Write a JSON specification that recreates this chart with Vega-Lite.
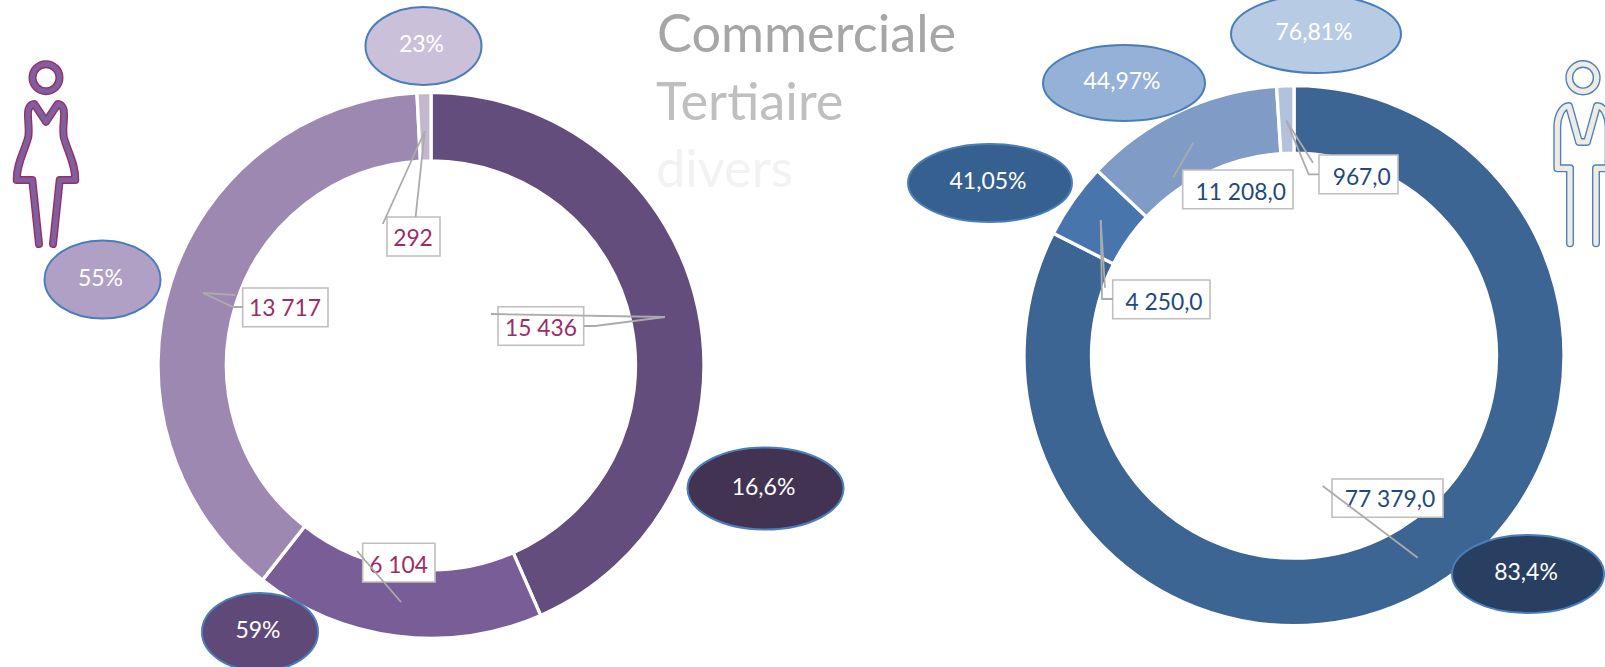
{
"$schema":"https://vega.github.io/schema/vega-lite/v6.json",
"width":1605,"height":667,"padding":0,"autosize":{"type":"none"},"background":"white",
"config":{"view":{"stroke":null},"font":"Lato"},
"datasets":{
"slices":[
{"donut":"Femmes","segment":"F1","order":1,"value":15436},
{"donut":"Femmes","segment":"F2","order":2,"value":6104},
{"donut":"Femmes","segment":"F3","order":3,"value":13717},
{"donut":"Femmes","segment":"F4","order":4,"value":292},
{"donut":"Hommes","segment":"H1","order":1,"value":77379},
{"donut":"Hommes","segment":"H2","order":2,"value":4250},
{"donut":"Hommes","segment":"H3","order":3,"value":11208},
{"donut":"Hommes","segment":"H4","order":4,"value":967}],
"bubbles":[
{"label":"16,6%","x":765.5,"y":488.5},
{"label":"59%","x":260,"y":632},
{"label":"55%","x":102.5,"y":279.5},
{"label":"23%","x":423.5,"y":46},
{"label":"83,4%","x":1528,"y":574},
{"label":"41,05%","x":990,"y":183},
{"label":"44,97%","x":1124,"y":83},
{"label":"76,81%","x":1316,"y":34}],
"boxes":[
{"label":"15 436","donut":"Femmes","x0":498,"x1":583.7,"y0":306.7,"y1":345.3,"tx":541,"ty":329},
{"label":"6 104","donut":"Femmes","x0":362.7,"x1":435,"y0":543.3,"y1":582,"tx":398.5,"ty":566},
{"label":"13 717","donut":"Femmes","x0":242.7,"x1":328,"y0":288,"y1":326.7,"tx":285,"ty":309},
{"label":"292","donut":"Femmes","x0":387,"x1":440,"y0":217,"y1":256,"tx":413,"ty":239},
{"label":"77 379,0","donut":"Hommes","x0":1332,"x1":1443,"y0":479,"y1":517.3,"tx":1390,"ty":500},
{"label":"4 250,0","donut":"Hommes","x0":1112.7,"x1":1210,"y0":280,"y1":318.7,"tx":1164,"ty":303},
{"label":"11 208,0","donut":"Hommes","x0":1182.7,"x1":1293,"y0":170,"y1":208.7,"tx":1240.7,"ty":193},
{"label":"967,0","donut":"Hommes","x0":1319,"x1":1398,"y0":155,"y1":193.7,"tx":1361.7,"ty":178}],
"leaders":[
{"id":"a1","seq":1,"x":203,"y":293},{"id":"a1","seq":2,"x":235,"y":295},
{"id":"a2","seq":1,"x":203,"y":293},{"id":"a2","seq":2,"x":233,"y":307},{"id":"a2","seq":3,"x":243,"y":307},
{"id":"b1","seq":1,"x":491,"y":314},{"id":"b1","seq":2,"x":665,"y":317},
{"id":"b2","seq":1,"x":665,"y":317},{"id":"b2","seq":2,"x":595,"y":326},{"id":"b2","seq":3,"x":584,"y":326},
{"id":"c1","seq":1,"x":357,"y":551},{"id":"c1","seq":2,"x":401,"y":602},
{"id":"d1","seq":1,"x":424.8,"y":131},{"id":"d1","seq":2,"x":382.8,"y":224},
{"id":"d2","seq":1,"x":424.8,"y":131},{"id":"d2","seq":2,"x":415.6,"y":217},
{"id":"e1","seq":1,"x":1286.3,"y":120.7},{"id":"e1","seq":2,"x":1313,"y":162.7},
{"id":"e2","seq":1,"x":1286.3,"y":120.7},{"id":"e2","seq":2,"x":1308.7,"y":174.3},{"id":"e2","seq":3,"x":1319,"y":174.3},
{"id":"f1","seq":1,"x":1193.3,"y":142.7},{"id":"f1","seq":2,"x":1173.3,"y":177.3},
{"id":"g1","seq":1,"x":1100.7,"y":220},{"id":"g1","seq":2,"x":1105,"y":287.7},
{"id":"g2","seq":1,"x":1100.7,"y":220},{"id":"g2","seq":2,"x":1102,"y":299},{"id":"g2","seq":3,"x":1113,"y":299},
{"id":"h1","seq":1,"x":1322.7,"y":486},{"id":"h1","seq":2,"x":1417.7,"y":557.7}],
"legend":[
{"label":"Commerciale","x":657,"y":52},
{"label":"Tertiaire","x":656,"y":120},
{"label":"divers","x":656,"y":187}],
"icons":[{"icon":"Femme","x":46,"y":150},{"icon":"Homme","x":1583,"y":150}]
},
"layer":[
{"data":{"name":"slices"},
 "transform":[{"filter":"datum.donut==='Femmes'"},{"stack":"value","groupby":["donut"],"sort":[{"field":"order","order":"ascending"}],"offset":"normalize","as":["a0","a1"]}],
 "mark":{"type":"arc","innerRadius":204.5,"outerRadius":273,"stroke":"white","strokeWidth":3.3},
 "encoding":{
  "x":{"field":"donut","type":"nominal","axis":null,"scale":{"domain":["Femmes","Hommes"],"range":[431,1294],"padding":0}},
  "y":{"field":"donut","type":"nominal","axis":null,"scale":{"domain":["Femmes","Hommes"],"range":[365.4,355.7],"padding":0}},
  "theta":{"field":"a0","type":"quantitative","scale":{"domain":[0,1]}},
  "theta2":{"field":"a1"},
  "fill":{"field":"segment","type":"nominal","legend":null,"scale":{"domain":["F1","F2","F3","F4"],"range":["#634D7C","#785D97","#9D88B2","#C3B7D0"]}}}},
{"data":{"name":"slices"},
 "transform":[{"filter":"datum.donut==='Hommes'"},{"stack":"value","groupby":["donut"],"sort":[{"field":"order","order":"ascending"}],"offset":"normalize","as":["a0","a1"]}],
 "mark":{"type":"arc","innerRadius":202.5,"outerRadius":270,"stroke":"white","strokeWidth":3.3},
 "encoding":{
  "x":{"field":"donut","type":"nominal","axis":null,"scale":{"domain":["Femmes","Hommes"],"range":[431,1294],"padding":0}},
  "y":{"field":"donut","type":"nominal","axis":null,"scale":{"domain":["Femmes","Hommes"],"range":[365.4,355.7],"padding":0}},
  "theta":{"field":"a0","type":"quantitative","scale":{"domain":[0,1]}},
  "theta2":{"field":"a1"},
  "fill":{"field":"segment","type":"nominal","legend":null,"scale":{"domain":["H1","H2","H3","H4"],"range":["#3C6594","#4876AC","#7F9BC6","#B2C2DD"]}}}},
{"data":{"name":"icons"},
 "mark":{"type":"point","size":4,"filled":false,"opacity":1,"strokeWidth":8,"strokeCap":"round","strokeJoin":"round"},
 "encoding":{
  "x":{"field":"x","type":"quantitative","axis":null,"scale":{"domain":[0,1605],"range":[0,1605]}},
  "y":{"field":"y","type":"quantitative","axis":null,"scale":{"domain":[0,667],"range":[0,667]}},
  "shape":{"field":"icon","type":"nominal","legend":null,"scale":{"domain":["Femme","Homme"],"range":["M-7,94L-13.7,30L-29.3,30C-29.3,13,-22,3,-17.7,-13C-16,-25,-20,-36,-17,-42Q-15,-46,-11.7,-46L0,-28.3L11.7,-46Q15,-46,17,-42C20,-36,16,-25,17.7,-13C22,3,29.3,13,29.3,30L13.7,30L7,94M13.5,-72.3A13.5,13.5 0 1,1 -13.5,-72.3A13.5,13.5 0 1,1 13.5,-72.3Z","M-13,93.3L-13,18.3L-25.7,18.3L-25.7,-23.3C-25.7,-33,-21,-44,-14,-44L-4,-8L4,-8L14,-44C21,-44,25.7,-33,25.7,-23.3L25.7,18.3L13,18.3L13,93.3M13.7,-72.3A13.7,13.7 0 1,1 -13.7,-72.3A13.7,13.7 0 1,1 13.7,-72.3Z"]}},
  "stroke":{"field":"icon","type":"nominal","legend":null,"scale":{"domain":["Femme","Homme"],"range":["#9B2D64","#4F81BD"]}}}},
{"data":{"name":"icons"},
 "mark":{"type":"point","size":4,"filled":false,"opacity":1,"strokeWidth":5.2,"strokeCap":"round","strokeJoin":"round"},
 "encoding":{
  "x":{"field":"x","type":"quantitative","axis":null,"scale":{"domain":[0,1605],"range":[0,1605]}},
  "y":{"field":"y","type":"quantitative","axis":null,"scale":{"domain":[0,667],"range":[0,667]}},
  "shape":{"field":"icon","type":"nominal","legend":null,"scale":{"domain":["Femme","Homme"],"range":["M-7,94L-13.7,30L-29.3,30C-29.3,13,-22,3,-17.7,-13C-16,-25,-20,-36,-17,-42Q-15,-46,-11.7,-46L0,-28.3L11.7,-46Q15,-46,17,-42C20,-36,16,-25,17.7,-13C22,3,29.3,13,29.3,30L13.7,30L7,94M13.5,-72.3A13.5,13.5 0 1,1 -13.5,-72.3A13.5,13.5 0 1,1 13.5,-72.3Z","M-13,93.3L-13,18.3L-25.7,18.3L-25.7,-23.3C-25.7,-33,-21,-44,-14,-44L-4,-8L4,-8L14,-44C21,-44,25.7,-33,25.7,-23.3L25.7,18.3L13,18.3L13,93.3M13.7,-72.3A13.7,13.7 0 1,1 -13.7,-72.3A13.7,13.7 0 1,1 13.7,-72.3Z"]}},
  "stroke":{"field":"icon","type":"nominal","legend":null,"scale":{"domain":["Femme","Homme"],"range":["#805F9F","#EEECE1"]}}}},
{"data":{"name":"legend"},
 "mark":{"type":"text","align":"left","baseline":"alphabetic","fontSize":52.3,"font":"Lato"},
 "encoding":{
  "x":{"field":"x","type":"quantitative","axis":null,"scale":{"domain":[0,1605],"range":[0,1605]}},
  "y":{"field":"y","type":"quantitative","axis":null,"scale":{"domain":[0,667],"range":[0,667]}},
  "text":{"field":"label"},
  "color":{"field":"label","type":"nominal","legend":null,"scale":{"domain":["Commerciale","Tertiaire","divers"],"range":["#A6A6A6","#BFBFBF","#F2F2F2"]}}}},
{"data":{"name":"boxes"},
 "mark":{"type":"rect","fill":"white","stroke":"#BFBFBF","strokeWidth":1.6},
 "encoding":{
  "x":{"field":"x0","type":"quantitative","axis":null,"scale":{"domain":[0,1605],"range":[0,1605]}},
  "x2":{"field":"x1"},
  "y":{"field":"y0","type":"quantitative","axis":null,"scale":{"domain":[0,667],"range":[0,667]}},
  "y2":{"field":"y1"}}},
{"data":{"name":"boxes"},
 "mark":{"type":"text","align":"center","baseline":"middle","fontSize":22.8,"font":"Lato"},
 "encoding":{
  "x":{"field":"tx","type":"quantitative","axis":null,"scale":{"domain":[0,1605],"range":[0,1605]}},
  "y":{"field":"ty","type":"quantitative","axis":null,"scale":{"domain":[0,667],"range":[0,667]}},
  "text":{"field":"label"},
  "color":{"field":"donut","type":"nominal","legend":null,"scale":{"domain":["Femmes","Hommes"],"range":["#9B2D64","#1F497D"]}}}},
{"data":{"name":"leaders"},
 "mark":{"type":"line","stroke":"#ABABAB","strokeWidth":1.8},
 "encoding":{
  "x":{"field":"x","type":"quantitative","axis":null,"scale":{"domain":[0,1605],"range":[0,1605]}},
  "y":{"field":"y","type":"quantitative","axis":null,"scale":{"domain":[0,667],"range":[0,667]}},
  "detail":{"field":"id"},
  "order":{"field":"seq","type":"ordinal"}}},
{"data":{"name":"bubbles"},
 "mark":{"type":"point","size":4,"filled":true,"opacity":1,"stroke":"#4A7EBB","strokeWidth":2},
 "encoding":{
  "x":{"field":"x","type":"quantitative","axis":null,"scale":{"domain":[0,1605],"range":[0,1605]}},
  "y":{"field":"y","type":"quantitative","axis":null,"scale":{"domain":[0,667],"range":[0,667]}},
  "shape":{"field":"label","type":"nominal","legend":null,"scale":{"domain":["16,6%","59%","55%","23%","83,4%","41,05%","44,97%","76,81%"],"range":[
   "M-78,0A78,41 0 1,1 78,0A78,41 0 1,1 -78,0Z",
   "M-58,0A58,39 0 1,1 58,0A58,39 0 1,1 -58,0Z",
   "M-58,0A58,39 0 1,1 58,0A58,39 0 1,1 -58,0Z",
   "M-58,0A58,39 0 1,1 58,0A58,39 0 1,1 -58,0Z",
   "M-76,0A76,39 0 1,1 76,0A76,39 0 1,1 -76,0Z",
   "M-82,0A82,39 0 1,1 82,0A82,39 0 1,1 -82,0Z",
   "M-81,0A81,38 0 1,1 81,0A81,38 0 1,1 -81,0Z",
   "M-85,0A85,39 0 1,1 85,0A85,39 0 1,1 -85,0Z"]}},
  "fill":{"field":"label","type":"nominal","legend":null,"scale":{"domain":["16,6%","59%","55%","23%","83,4%","41,05%","44,97%","76,81%"],"range":["#433352","#5F4979","#B0A0C6","#CBC0DA","#283F61","#366090","#95B1D7","#B7CCE4"]}}}},
{"data":{"name":"bubbles"},
 "mark":{"type":"text","align":"center","baseline":"middle","fontSize":23,"font":"Lato","fill":"white","dy":-1,"dx":-2},
 "encoding":{
  "x":{"field":"x","type":"quantitative","axis":null,"scale":{"domain":[0,1605],"range":[0,1605]}},
  "y":{"field":"y","type":"quantitative","axis":null,"scale":{"domain":[0,667],"range":[0,667]}},
  "text":{"field":"label"}}}
],
"resolve":{"scale":{"x":"independent","y":"independent","fill":"independent","shape":"independent","stroke":"independent","color":"independent"}}
}
